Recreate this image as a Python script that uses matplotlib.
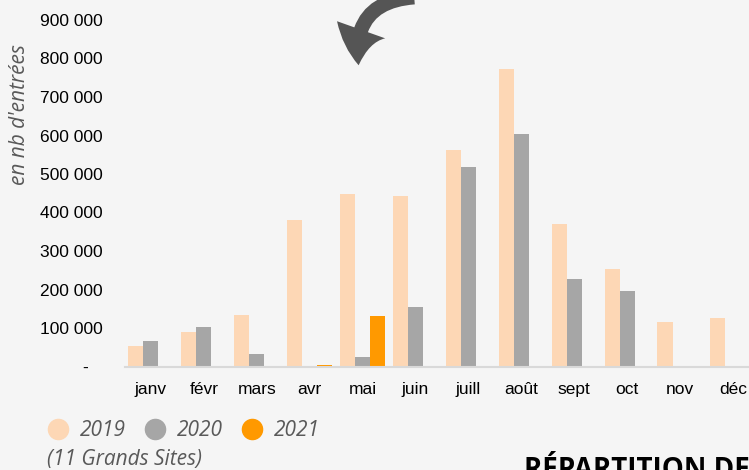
import matplotlib
matplotlib.use('Agg')
import matplotlib.pyplot as plt
from matplotlib.lines import Line2D
from matplotlib.patches import FancyArrowPatch
from matplotlib.ticker import FuncFormatter
import numpy as np

months = ['janv', 'févr', 'mars', 'avr', 'mai', 'juin', 'juill', 'août',
          'sept', 'oct', 'nov', 'déc']
v2019 = [53000, 90000, 135000, 381000, 447000, 443000, 562000, 774000,
         369000, 253000, 115000, 127000]
v2020 = [65000, 102000, 33000, 0, 24000, 154000, 517000, 604000,
         227000, 196000, 0, 0]
v2021 = [0, 0, 0, 3000, 132000, 0, 0, 0, 0, 0, 0, 0]
years = ['2019', '2020', '2021']
colors = ['#fdd7b5', '#a6a6a6', '#ff9900']

bg = '#f5f5f5'
W, H = 749, 470
fig = plt.figure(figsize=(W / 100, H / 100), dpi=100, facecolor=bg)

def fx(px):
    return px / W

def fy(py):
    return 1 - py / H

ax = fig.add_axes([fx(125), fy(366.5), fx(635), fy(20) - fy(366.5)])
ax.set_facecolor(bg)

x = np.arange(len(months))
w = 0.285
for i, (vals, c) in enumerate(zip([v2019, v2020, v2021], colors)):
    ax.bar(x + (i - 1) * w, vals, width=w, color=c, linewidth=0)

ax.set_xlim(-0.49, 11.51)
ax.set_ylim(0, 900000)
ax.set_yticks(np.arange(0, 900001, 100000))

def fmt(v, pos):
    if v == 0:
        return '-\u2007\u2008'
    return '{:,.0f}'.format(v).replace(',', ' ')

ax.yaxis.set_major_formatter(FuncFormatter(fmt))
ax.set_xticks(x)
ax.set_xticklabels(months)

for s in ['top', 'right', 'left']:
    ax.spines[s].set_visible(False)
ax.spines['bottom'].set_color('#d9d9d9')
ax.spines['bottom'].set_linewidth(1.5)
ax.tick_params(axis='both', length=0, labelsize=12.5, labelcolor='#000000')
ax.tick_params(axis='y', pad=16)
ax.tick_params(axis='x', pad=11)
for lab in ax.get_xticklabels() + ax.get_yticklabels():
    lab.set_fontfamily(['Liberation Sans', 'DejaVu Sans'])

fig.text(fx(20), fy(115), "en nb d'entrées", rotation=90, ha='center',
         va='center', fontsize=15, style='italic', color='#595959',
         family='Open Sans')

# legend
handles = [Line2D([], [], linestyle='none', marker='o', markersize=14.5,
                  markerfacecolor=c, markeredgecolor=c) for c in colors]
leg = fig.legend(handles, years, loc='center left',
                 bbox_to_anchor=(fx(47.5), fy(431)), ncol=3, frameon=False,
                 handlelength=1.0, handletextpad=0.56, columnspacing=0.88,
                 borderaxespad=0, borderpad=0,
                 prop={'family': 'Open Sans', 'style': 'italic', 'size': 15})
for t in leg.get_texts():
    t.set_color('#595959')

fig.text(fx(47), fy(459), '(11 Grands Sites)', ha='left', va='center',
         fontsize=15, style='italic', color='#595959', family='Open Sans')

fig.text(fx(524), fy(456), 'RÉPARTITION DES', ha='left', va='top',
         fontsize=20, fontweight='bold', color='#000000', family='Open Sans')

# curved pointer towards mai 2021
arrow = FancyArrowPatch((fx(417), fy(-3)), (fx(359), fy(68)),
                        transform=fig.transFigure,
                        connectionstyle='arc3,rad=0.55',
                        arrowstyle='simple,head_width=2.3,head_length=1.6,tail_width=0.65',
                        mutation_scale=16, color='#555555', linewidth=0)
fig.patches.append(arrow)

fig.savefig('out.png', dpi=100, facecolor=bg)
